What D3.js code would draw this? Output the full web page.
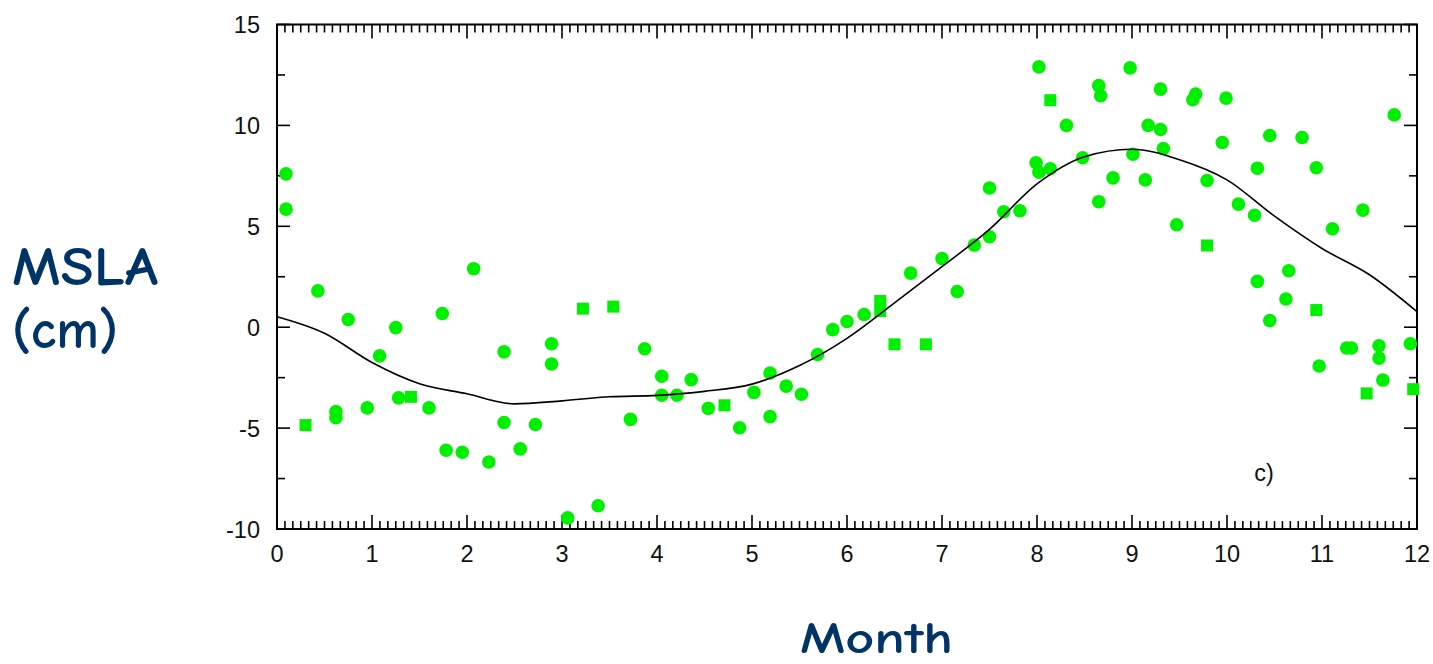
<!DOCTYPE html>
<html>
<head>
<meta charset="utf-8">
<script src="https://cdn.jsdelivr.net/npm/d3@7"></script>
<style>
  html, body { margin: 0; padding: 0; background: #ffffff; }
  svg { display: block; }
</style>
</head>
<body>
<svg id="chart" width="1433" height="664"></svg>
<script>
// Monthly mean sea level anomaly observations (cm)
const circleMonth = [0.095, 0.095, 0.43, 0.75, 1.08, 1.25, 1.74, 2.07, 2.39, 2.89, 2.89, 0.62, 0.62, 0.95, 1.28, 1.6, 1.78, 1.95, 2.23, 2.39, 2.56, 2.72, 3.06, 3.38, 3.72, 3.87, 4.05, 4.05, 4.21, 4.36, 4.54, 4.87, 5.02, 5.19, 5.19, 5.36, 5.52, 5.69, 5.85, 6.0, 6.18, 6.67, 7.0, 7.16, 7.34, 7.5, 7.5, 7.65, 7.82, 7.99, 8.02, 8.14, 8.02, 8.31, 8.48, 8.65, 8.67, 8.65, 8.8, 8.98, 9.01, 9.14, 9.17, 9.3, 9.3, 9.33, 9.47, 9.64, 9.67, 9.79, 9.95, 9.99, 10.12, 10.29, 10.32, 10.32, 10.45, 10.45, 10.62, 10.65, 10.79, 10.94, 10.97, 11.11, 11.26, 11.31, 11.43, 11.6, 11.6, 11.64, 11.76, 11.93];
const circleMsla = [7.6, 5.85, 1.8, 0.38, -1.42, -0.02, 0.68, 2.9, -1.22, -0.82, -1.82, -4.18, -4.48, -4.0, -3.5, -4.0, -6.1, -6.2, -6.68, -4.72, -6.03, -4.82, -9.45, -8.85, -4.57, -1.07, -2.43, -3.37, -3.37, -2.6, -4.02, -4.98, -3.23, -2.27, -4.43, -2.92, -3.32, -1.35, -0.12, 0.28, 0.63, 2.68, 3.4, 1.77, 4.07, 4.48, 6.9, 5.72, 5.77, 8.15, 7.68, 7.85, 12.9, 10.0, 8.4, 11.97, 11.47, 6.22, 7.4, 12.85, 8.57, 7.3, 10.0, 11.8, 9.8, 8.85, 5.08, 11.27, 11.55, 7.27, 9.15, 11.35, 6.1, 5.55, 7.88, 2.27, 9.5, 0.33, 1.4, 2.8, 9.4, 7.9, -1.92, 4.88, -1.03, -1.03, 5.8, -0.92, -1.53, -2.62, 10.52, -0.82];

const squareMonth = [0.30, 1.41, 3.22, 3.54, 4.71, 6.35, 6.35, 6.5, 6.83, 8.14, 9.79, 10.94, 11.47, 11.96];
const squareMsla = [-4.85, -3.45, 0.92, 1.02, -3.87, 1.3, 0.8, -0.85, -0.85, 11.25, 4.05, 0.85, -3.28, -3.07];

// Fitted seasonal cycle
const fitMonth = [0, 0.5, 1.0, 1.5, 2.0, 2.5, 3.0, 3.5, 4.0, 4.5, 5.0, 5.5, 6.0, 6.5, 7.0, 7.5, 8.0, 8.5, 9.0, 9.5, 10.0, 10.5, 11.0, 11.5, 12.0];
const fitMsla = [0.52, -0.3, -1.75, -2.8, -3.3, -3.8, -3.65, -3.45, -3.38, -3.18, -2.82, -1.9, -0.55, 1.2, 3.0, 4.85, 7.1, 8.45, 8.82, 8.3, 7.3, 5.5, 3.9, 2.6, 0.77];

const xTickLabels = ["0", "1", "2", "3", "4", "5", "6", "7", "8", "9", "10", "11", "12"];
const yTickLabels = ["-10", "-5", "0", "5", "10", "15"];

const svg = d3.select("#chart");
const plotLeft = 277, plotRight = 1417, plotTop = 24.5, plotBottom = 529;

const x = d3.scaleLinear().domain([0, 12]).range([plotLeft, plotRight]);
const y = d3.scaleLinear().domain([-10, 15]).range([plotBottom, plotTop]);

const green = "#00f000";
const tickFont = "'Liberation Sans', Arial, Helvetica, sans-serif";

// Inward ticks on all four sides
const xMinor = d3.range(0, 145).map(i => i / 12);
const yMinor = d3.range(-10, 15.01, 2.5);
const yMajor = yTickLabels.map(Number);

const ticks = svg.append("g").attr("stroke", "#000").attr("stroke-width", 1.6);
xMinor.forEach(v => {
  const isMajor = Math.abs(v - Math.round(v)) < 1e-6;
  const len = isMajor ? 14 : 8;
  ticks.append("line").attr("x1", x(v)).attr("x2", x(v)).attr("y1", plotBottom).attr("y2", plotBottom - len);
  ticks.append("line").attr("x1", x(v)).attr("x2", x(v)).attr("y1", plotTop).attr("y2", plotTop + len);
});
yMinor.forEach(v => {
  const isMajor = yMajor.includes(v);
  const len = isMajor ? 13 : 8;
  ticks.append("line").attr("x1", plotLeft).attr("x2", plotLeft + len).attr("y1", y(v)).attr("y2", y(v));
  ticks.append("line").attr("x1", plotRight).attr("x2", plotRight - len).attr("y1", y(v)).attr("y2", y(v));
});

// Plot frame
svg.append("rect")
  .attr("x", plotLeft).attr("y", plotTop)
  .attr("width", plotRight - plotLeft).attr("height", plotBottom - plotTop)
  .attr("fill", "none").attr("stroke", "#000").attr("stroke-width", 2);

// Tick labels
svg.append("g").selectAll("text").data(xTickLabels).join("text")
  .attr("x", d => x(+d)).attr("y", 562)
  .attr("text-anchor", "middle")
  .attr("font-family", tickFont).attr("font-size", 23.5)
  .attr("fill", "#111")
  .text(d => d);

svg.append("g").selectAll("text").data(yTickLabels).join("text")
  .attr("x", 260).attr("y", d => y(+d) + 8.5)
  .attr("text-anchor", "end")
  .attr("font-family", tickFont).attr("font-size", 23.5)
  .attr("fill", "#111")
  .text(d => d);

// Observations: circles and squares
svg.append("g").selectAll("circle").data(circleMonth.map((m, i) => [m, circleMsla[i]])).join("circle")
  .attr("cx", d => x(d[0])).attr("cy", d => y(d[1]))
  .attr("r", 6.8)
  .attr("fill", green);

const sq = 12;
svg.append("g").selectAll("rect").data(squareMonth.map((m, i) => [m, squareMsla[i]])).join("rect")
  .attr("x", d => x(d[0]) - sq / 2).attr("y", d => y(d[1]) - sq / 2)
  .attr("width", sq).attr("height", sq)
  .attr("fill", green);

// Fitted curve
const line = d3.line()
  .x(d => x(d[0])).y(d => y(d[1]))
  .curve(d3.curveMonotoneX);
svg.append("path")
  .datum(fitMonth.map((m, i) => [m, fitMsla[i]]))
  .attr("d", line)
  .attr("fill", "none")
  .attr("stroke", "#000")
  .attr("stroke-width", 1.6);

// Panel label
svg.append("text")
  .attr("x", 1264).attr("y", 481)
  .attr("text-anchor", "middle")
  .attr("font-family", tickFont).attr("font-size", 23.5)
  .attr("fill", "#111")
  .text("c)");

// Axis titles
const titleFont = "'Comic Sans MS', 'Comic Neue', 'Open Sans', sans-serif";
const navy = "#003366";
svg.append("text")
  .attr("x", 12).attr("y", 285)
  .attr("font-family", titleFont).attr("font-size", 54).attr("font-weight", 700)
  .attr("fill", navy)
  .attr("textLength", 146).attr("lengthAdjust", "spacingAndGlyphs")
  .text("MSLA");
svg.append("text")
  .attr("x", 12).attr("y", 348)
  .attr("font-family", titleFont).attr("font-size", 54).attr("font-weight", 700)
  .attr("fill", navy)
  .attr("textLength", 106).attr("lengthAdjust", "spacingAndGlyphs")
  .text("(cm)");
svg.append("text")
  .attr("x", 800).attr("y", 653)
  .attr("font-family", titleFont).attr("font-size", 45).attr("font-weight", 700)
  .attr("fill", navy)
  .attr("textLength", 153).attr("lengthAdjust", "spacingAndGlyphs")
  .text("Month");
</script>
</body>
</html>
